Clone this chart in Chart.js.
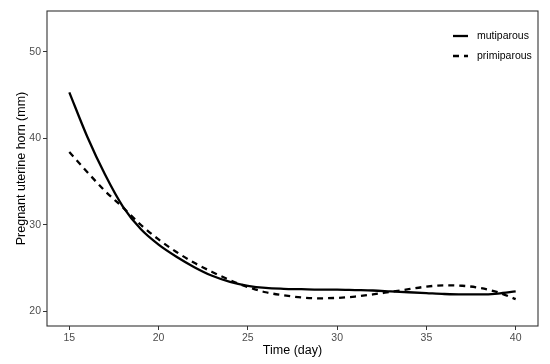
<!DOCTYPE html>
<html>
<head>
<meta charset="utf-8">
<script src="https://cdn.jsdelivr.net/npm/chart.js@4"></script>
<style>
body{margin:0;background:#fff;}
</style>
</head>
<body>
<canvas id="hornChart" width="550" height="364"></canvas>
<script>
// days 15..40, fitted curve
const days = [15,16,17,18,19,20,21,22,23,24,25,26,27,28,29,30,31,32,33,34,35,36,37,38,39,40];
const mutiparous = [45.3,40.2,35.8,32.1,29.5,27.7,26.3,25.1,24.1,23.4,22.95,22.7,22.6,22.55,22.5,22.5,22.45,22.4,22.3,22.2,22.1,22.0,21.95,21.95,22.05,22.3];
const primiparous = [38.4,36.1,33.9,32.0,30.0,28.3,26.85,25.6,24.55,23.6,22.8,22.2,21.85,21.6,21.5,21.55,21.7,21.95,22.25,22.55,22.85,23.0,22.95,22.7,22.2,21.4];
const xTicks = [15,20,25,30,35,40];
const yTicks = [20,30,40,50];

const FONT = "'Liberation Sans', Arial, sans-serif";

function pts(vals){
  return days.map((d,i)=>({x:d,y:vals[i]}));
}

// ggplot-like panel border and legend inside the panel
const panel = {
  id:"panel",
  afterDraw(chart){
    const ctx = chart.ctx, a = chart.chartArea;
    ctx.save();
    ctx.strokeStyle = "#333";
    ctx.lineWidth = 1.1;
    ctx.setLineDash([]);
    ctx.strokeRect(a.left, a.top, a.right-a.left, a.bottom-a.top);

    chart.data.datasets.forEach((ds,i)=>{
      const y = 36 + i*20;
      ctx.strokeStyle = ds.borderColor;
      ctx.lineWidth = ds.borderWidth;
      ctx.lineCap = "butt";
      ctx.setLineDash(ds.borderDash || []);
      ctx.beginPath();
      ctx.moveTo(453, y);
      ctx.lineTo(468, y);
      ctx.stroke();
      ctx.setLineDash([]);
      ctx.fillStyle = "#000";
      ctx.font = "10.5px " + FONT;
      ctx.textBaseline = "middle";
      ctx.textAlign = "left";
      ctx.fillText(ds.label, 477, y);
    });
    ctx.restore();
  }
};

new Chart(document.getElementById("hornChart"),{
  type:"line",
  data:{
    datasets:[{
      label:"mutiparous",
      data:pts(mutiparous),
      borderColor:"#000",
      borderWidth:2.3,
      pointRadius:0,
      fill:false,
      cubicInterpolationMode:"monotone"
    },{
      label:"primiparous",
      data:pts(primiparous),
      borderColor:"#000",
      borderWidth:2.3,
      borderDash:[6,5],
      pointRadius:0,
      fill:false,
      cubicInterpolationMode:"monotone"
    }]
  },
  options:{
    responsive:false,
    animation:false,
    layout:{padding:{top:11,right:12,left:0,bottom:0}},
    plugins:{legend:{display:false},tooltip:{enabled:false}},
    scales:{
      x:{
        type:"linear",
        min:13.75,
        max:41.25,
        afterBuildTicks:s=>{s.ticks = xTicks.map(v=>({value:v}));},
        afterFit:s=>{s.height = 38;},
        grid:{drawOnChartArea:false,drawTicks:true,tickLength:4,color:"#333"},
        border:{display:false},
        ticks:{color:"#4d4d4d",font:{size:10.5,family:FONT},padding:2,maxRotation:0},
        title:{display:true,text:"Time (day)",color:"#000",font:{size:12.5,family:FONT},padding:{top:0,bottom:5.5}}
      },
      y:{
        type:"linear",
        min:18.3,
        max:54.7,
        afterBuildTicks:s=>{s.ticks = yTicks.map(v=>({value:v}));},
        afterFit:s=>{s.width = 47;},
        grid:{drawOnChartArea:false,drawTicks:true,tickLength:4,color:"#333"},
        border:{display:false},
        ticks:{color:"#4d4d4d",font:{size:10.5,family:FONT},padding:2},
        title:{display:true,text:"Pregnant uterine horn (mm)",color:"#000",font:{size:12.5,family:FONT},padding:{top:14,bottom:0}}
      }
    }
  },
  plugins:[panel]
});
</script>
</body>
</html>
